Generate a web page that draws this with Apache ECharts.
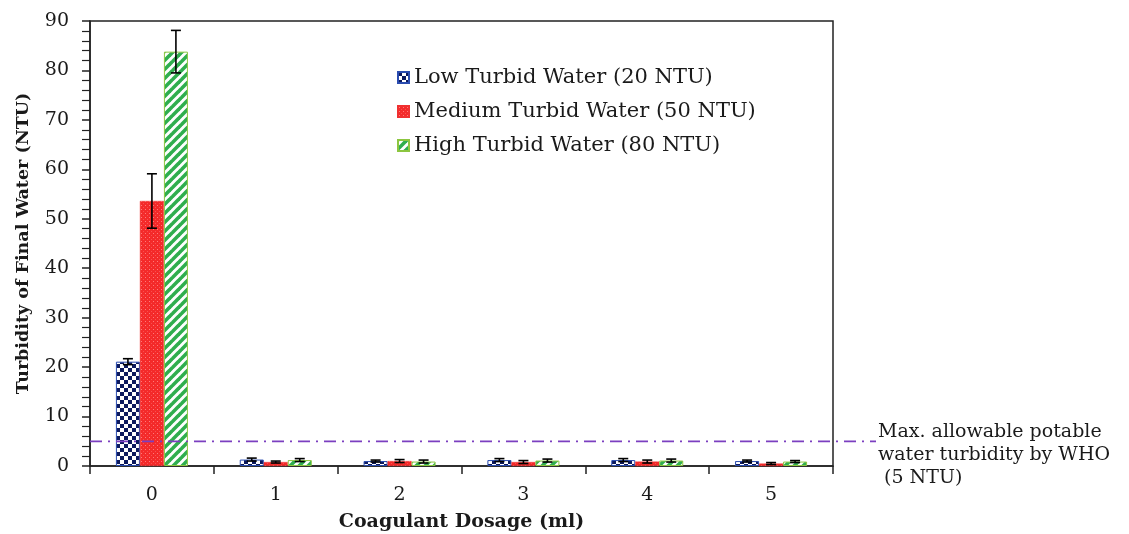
<!DOCTYPE html>
<html>
<head>
<meta charset="utf-8">
<script src="https://cdn.jsdelivr.net/npm/echarts@6/dist/echarts.min.js"></script>
<style>
  html, body { margin: 0; padding: 0; background: #fff; }
  #chart { width: 1129px; height: 534px; }
</style>
</head>
<body>
<div id="chart"></div>
<script>
// Coagulant dosage (ml) categories
var categories = ['0', '1', '2', '3', '4', '5'];
// Final water turbidity (NTU) per raw-water level
var lowTurbid = [21.1, 1.3, 1.0, 1.2, 1.2, 1.0];
var mediumTurbid = [53.6, 0.8, 1.0, 0.8, 0.9, 0.5];
var highTurbid = [83.8, 1.2, 0.9, 1.1, 1.1, 0.9];
// Standard deviations (error bars)
var lowErr = [0.6, 0.3, 0.2, 0.3, 0.3, 0.2];
var mediumErr = [5.5, 0.2, 0.3, 0.3, 0.3, 0.2];
var highErr = [4.3, 0.3, 0.3, 0.3, 0.3, 0.2];
// WHO guideline for potable water
var whoLimit = 5;
var yTicks = [0, 10, 20, 30, 40, 50, 60, 70, 80, 90];

var SERIF = '"DejaVu Serif", "Liberation Serif", serif';
var BAR_W = 24;

function makeCanvas(w, h) {
  var c = document.createElement('canvas');
  c.width = w; c.height = h;
  return c;
}
// navy checkerboard
function checkerPattern() {
  var c = makeCanvas(8, 8), g = c.getContext('2d');
  g.fillStyle = '#ffffff'; g.fillRect(0, 0, 8, 8);
  g.fillStyle = '#0c1a5e';
  g.fillRect(0, 0, 4, 4); g.fillRect(4, 4, 4, 4);
  return c;
}
// red with faint light dots
function dotPattern() {
  var c = makeCanvas(4, 4), g = c.getContext('2d');
  g.fillStyle = '#f42a2a'; g.fillRect(0, 0, 4, 4);
  g.fillStyle = '#ff7a7a'; g.fillRect(1, 1, 1, 1);
  g.fillStyle = '#f85050'; g.fillRect(3, 3, 1, 1);
  return c;
}
// green diagonal hatching
function stripePattern() {
  var s = 9, c = makeCanvas(s, s), g = c.getContext('2d');
  g.fillStyle = '#ffffff'; g.fillRect(0, 0, s, s);
  g.strokeStyle = '#2fae4e'; g.lineWidth = 3.6;
  for (var k = -1; k <= 1; k++) {
    g.beginPath();
    g.moveTo(k * s - 1, s + 1);
    g.lineTo(k * s + s + 1, -1);
    g.stroke();
  }
  return c;
}

function errorSeries(name, values, errs, offset) {
  return {
    type: 'custom',
    name: name + ' err',
    z: 5,
    silent: true,
    data: values.map(function (v, i) { return [i, v - errs[i], v + errs[i]]; }),
    renderItem: function (params, api) {
      var lo = api.coord([api.value(0), api.value(1)]);
      var hi = api.coord([api.value(0), api.value(2)]);
      var x = lo[0] + offset;
      var cap = 5;
      var st = { stroke: '#000', lineWidth: 1.6 };
      return {
        type: 'group',
        children: [
          { type: 'line', shape: { x1: x, y1: lo[1], x2: x, y2: hi[1] }, style: st },
          { type: 'line', shape: { x1: x - cap, y1: hi[1], x2: x + cap, y2: hi[1] }, style: st },
          { type: 'line', shape: { x1: x - cap, y1: lo[1], x2: x + cap, y2: lo[1] }, style: st }
        ]
      };
    }
  };
}

var chart = echarts.init(document.getElementById('chart'), null, { renderer: 'canvas' });

var option = {
  backgroundColor: '#ffffff',
  animation: false,
  grid: [
    { left: 90, right: 296, top: 21, bottom: 68, outerBoundsMode: 'none', containLabel: false,
      show: true, borderColor: '#222', borderWidth: 1.5, backgroundColor: 'transparent' },
    { left: 90, right: 253, top: 21, bottom: 68, outerBoundsMode: 'none', containLabel: false }
  ],
  legend: {
    orient: 'vertical',
    left: 392,
    top: 62,
    itemWidth: 11,
    itemHeight: 11,
    itemGap: 13,
    icon: 'rect',
    data: ['Low Turbid Water (20 NTU)', 'Medium Turbid Water (50 NTU)', 'High Turbid Water (80 NTU)'],
    textStyle: { fontFamily: SERIF, fontSize: 21, color: '#1a1a1a', padding: [0, 0, 0, 0] }
  },
  xAxis: [
    {
      type: 'category',
      gridIndex: 0,
      data: categories,
      name: 'Coagulant Dosage (ml)',
      nameLocation: 'middle',
      nameGap: 47,
      nameTextStyle: { fontFamily: SERIF, fontSize: 19, fontWeight: 'bold', color: '#1a1a1a' },
      axisLine: { lineStyle: { color: '#222', width: 1.5 } },
      axisTick: { show: true, length: 8, lineStyle: { color: '#222', width: 1.5 } },
      axisLabel: { fontFamily: SERIF, fontSize: 19, color: '#1a1a1a', margin: 20 }
    },
    { type: 'value', gridIndex: 1, min: 0, max: 1, show: false }
  ],
  yAxis: [
    {
      type: 'value',
      gridIndex: 0,
      min: yTicks[0],
      max: yTicks[yTicks.length - 1],
      interval: 10,
      name: 'Turbidity of Final Water (NTU)',
      nameLocation: 'middle',
      nameGap: 58,
      nameTextStyle: { fontFamily: SERIF, fontSize: 17.5, fontWeight: 'bold', color: '#1a1a1a' },
      axisLine: { show: true, lineStyle: { color: '#222', width: 1.5 } },
      axisTick: { show: true, length: 8, lineStyle: { color: '#222', width: 1.5 } },
      minorTick: { show: true, splitNumber: 5, length: 8, lineStyle: { color: '#222', width: 1.2 } },
      splitLine: { show: false },
      axisLabel: { fontFamily: SERIF, fontSize: 19, color: '#1a1a1a', margin: 21 }
    },
    { type: 'value', gridIndex: 1, min: 0, max: 90, show: false }
  ],
  series: [
    {
      type: 'bar',
      name: 'Low Turbid Water (20 NTU)',
      data: lowTurbid,
      barWidth: BAR_W,
      barGap: '0%',
      itemStyle: { color: { image: checkerPattern(), repeat: 'repeat' }, borderColor: '#2a4cb0', borderWidth: 1 }
    },
    {
      type: 'bar',
      name: 'Medium Turbid Water (50 NTU)',
      data: mediumTurbid,
      barWidth: BAR_W,
      barGap: '0%',
      itemStyle: { color: { image: dotPattern(), repeat: 'repeat' }, borderColor: '#f03030', borderWidth: 0.5 }
    },
    {
      type: 'bar',
      name: 'High Turbid Water (80 NTU)',
      data: highTurbid,
      barWidth: BAR_W,
      barGap: '0%',
      itemStyle: { color: { image: stripePattern(), repeat: 'repeat' }, borderColor: '#8cc640', borderWidth: 1 }
    },
    errorSeries('low', lowTurbid, lowErr, -BAR_W),
    errorSeries('medium', mediumTurbid, mediumErr, 0),
    errorSeries('high', highTurbid, highErr, BAR_W),
    {
      type: 'line',
      name: 'WHO limit',
      xAxisIndex: 1,
      yAxisIndex: 1,
      data: [[0, whoLimit], [1, whoLimit]],
      symbol: 'none',
      silent: true,
      z: 6,
      lineStyle: { color: '#7b3fc0', width: 1.8, type: [12, 6, 2, 6] }
    }
  ],
  graphic: [
    {
      type: 'text',
      left: 878,
      top: 421,
      style: {
        text: 'Max. allowable potable\nwater turbidity by WHO\n (5 NTU)',
        font: '19px ' + SERIF,
        fill: '#1a1a1a',
        lineHeight: 23
      }
    }
  ]
};

chart.setOption(option);
</script>
</body>
</html>
